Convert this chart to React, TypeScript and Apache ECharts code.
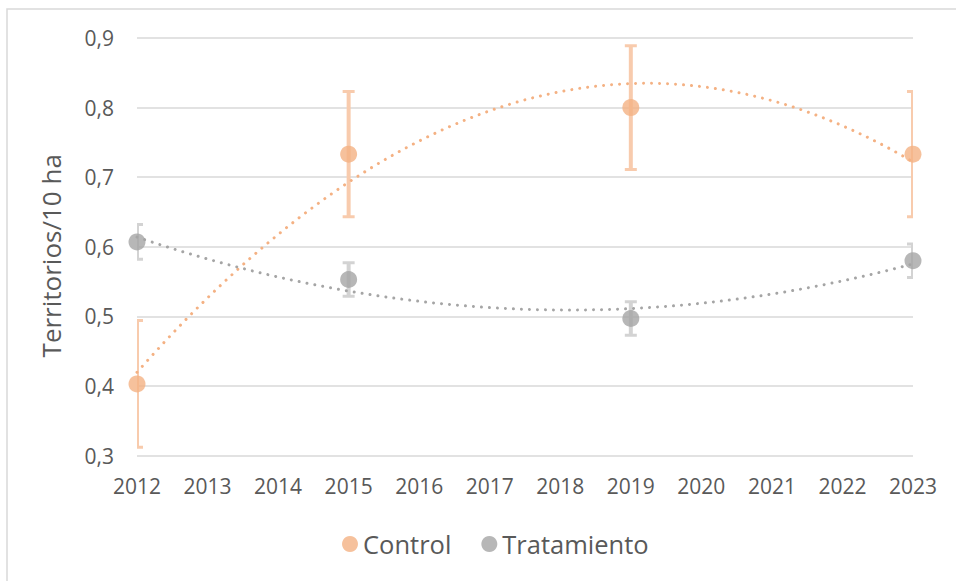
import React, { useEffect, useRef } from "react";
import * as echarts from "echarts";

const years = [2012, 2015, 2019, 2023];
const controlMean = [0.403, 0.733, 0.8, 0.733];
const controlErr = [0.091, 0.09, 0.089, 0.09];
const tratMean = [0.607, 0.553, 0.497, 0.58];
const tratErr = [0.025, 0.024, 0.024, 0.024];
const seriesNames = ["Control", "Tratamiento"];
const yAxisName = "Territorios/10 ha";

const FONT = "Open Sans";
const TEXT = "#595959";

// least-squares quadratic trendline (like Excel polynomial order 2)
function fitQuad(xs: number[], ys: number[]) {
  const x0 = xs[0];
  const n = xs.length;
  let s0 = n, s1 = 0, s2 = 0, s3 = 0, s4 = 0, t0 = 0, t1 = 0, t2 = 0;
  for (let i = 0; i < n; i++) {
    const x = xs[i] - x0;
    const y = ys[i];
    s1 += x; s2 += x * x; s3 += x * x * x; s4 += x * x * x * x;
    t0 += y; t1 += x * y; t2 += x * x * y;
  }
  const M = [
    [s0, s1, s2, t0],
    [s1, s2, s3, t1],
    [s2, s3, s4, t2],
  ];
  for (let c = 0; c < 3; c++) {
    let p = c;
    for (let r = c + 1; r < 3; r++) if (Math.abs(M[r][c]) > Math.abs(M[p][c])) p = r;
    [M[c], M[p]] = [M[p], M[c]];
    for (let r = 0; r < 3; r++) {
      if (r === c) continue;
      const f = M[r][c] / M[c][c];
      for (let k = c; k < 4; k++) M[r][k] -= f * M[c][k];
    }
  }
  const a = M[0][3] / M[0][0], b = M[1][3] / M[1][1], cc = M[2][3] / M[2][2];
  const pts: number[][] = [];
  const start = xs[0], end = xs[n - 1];
  const steps = 110;
  for (let i = 0; i <= steps; i++) {
    const x = start + ((end - start) * i) / steps;
    const d = x - x0;
    pts.push([x, a + b * d + cc * d * d]);
  }
  return pts;
}

function errorSeries(mean: number[], err: number[], color: string) {
  return {
    type: "custom",
    clip: true,
    z: 1,
    silent: true,
    data: years.map((y, i) => [y, mean[i] - err[i], mean[i] + err[i]]),
    encode: { x: 0, y: [1, 2] },
    renderItem: (params: any, api: any) => {
      const x = api.value(0);
      const pLo = api.coord([x, api.value(1)]);
      const pHi = api.coord([x, api.value(2)]);
      const hw = 6;
      return {
        type: "group",
        children: [
          { type: "line", shape: { x1: pHi[0], y1: pHi[1], x2: pLo[0], y2: pLo[1] }, style: { stroke: color, lineWidth: 4 } },
          { type: "line", shape: { x1: pHi[0] - hw, y1: pHi[1], x2: pHi[0] + hw, y2: pHi[1] }, style: { stroke: color, lineWidth: 3 } },
          { type: "line", shape: { x1: pLo[0] - hw, y1: pLo[1], x2: pLo[0] + hw, y2: pLo[1] }, style: { stroke: color, lineWidth: 3 } },
        ],
      };
    },
  };
}

export default function App() {
  const ref = useRef<HTMLDivElement>(null);
  useEffect(() => {
    if (!ref.current) return;
    const chart = echarts.init(ref.current, null, { renderer: "svg" });
    const cColor = "#F4B183";
    const tColor = "#A5A5A5";
    chart.setOption({
      animation: false,
      backgroundColor: "#ffffff",
      textStyle: { fontFamily: FONT, color: TEXT },
      grid: { left: 137, right: 43, top: 38, bottom: 125.4, containLabel: false },
      graphic: [
        { type: "rect", shape: { x: 7, y: 9, width: 1200, height: 1200 }, style: { fill: "none", stroke: "#d9d9d9", lineWidth: 1.5 }, silent: true },
      ],
      legend: {
        data: seriesNames,
        left: 337,
        top: 526,
        icon: "circle",
        itemWidth: 16,
        itemHeight: 16,
        itemGap: 30,
        textStyle: { fontFamily: FONT, fontSize: 25.5, color: TEXT },
      },
      xAxis: {
        type: "value",
        min: 2012,
        max: 2023,
        interval: 1,
        axisLine: { show: false },
        axisTick: { show: false },
        splitLine: { show: false },
        axisLabel: { formatter: (v: number) => String(v), fontSize: 21, color: TEXT, fontFamily: FONT, margin: 20 },
      },
      yAxis: {
        type: "value",
        min: 0.3,
        max: 0.9,
        interval: 0.1,
        name: yAxisName,
        nameLocation: "middle",
        nameRotate: 90,
        nameGap: 73,
        nameTextStyle: { fontSize: 26, color: TEXT, fontFamily: FONT, padding: [0, 18, 0, 0] },
        axisLine: { show: false },
        axisTick: { show: false },
        splitLine: { lineStyle: { color: "#d9d9d9", width: 1.5 } },
        axisLabel: { formatter: (v: number) => v.toFixed(1).replace(".", ","), fontSize: 21, color: TEXT, fontFamily: FONT, margin: 23 },
      },
      series: [
        errorSeries(controlMean, controlErr, "#F8CBAD"),
        errorSeries(tratMean, tratErr, "#D3D3D3"),
        {
          type: "line",
          z: 2,
          data: fitQuad(years, controlMean),
          showSymbol: false,
          silent: true,
          lineStyle: { color: cColor, width: 3, type: [0.01, 8], cap: "round" },
        },
        {
          type: "line",
          z: 2,
          data: fitQuad(years, tratMean),
          showSymbol: false,
          silent: true,
          lineStyle: { color: tColor, width: 3, type: [0.01, 8], cap: "round" },
        },
        {
          name: seriesNames[0],
          type: "scatter",
          z: 3,
          symbol: "circle",
          symbolSize: 17,
          itemStyle: { color: cColor },
          data: years.map((y, i) => [y, controlMean[i]]),
        },
        {
          name: seriesNames[1],
          type: "scatter",
          z: 3,
          symbol: "circle",
          symbolSize: 17,
          itemStyle: { color: tColor },
          data: years.map((y, i) => [y, tratMean[i]]),
        },
      ],
    });
    return () => chart.dispose();
  }, []);
  return <div ref={ref} style={{ position: "absolute", left: 0, top: 0, width: 956, height: 581 }} />;
}
